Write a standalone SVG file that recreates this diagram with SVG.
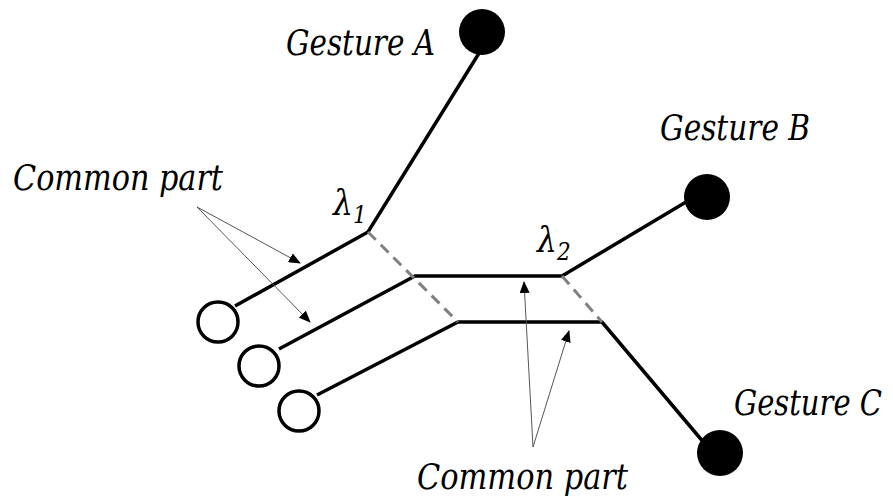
<svg xmlns="http://www.w3.org/2000/svg" width="893" height="498" viewBox="0 0 893 498">
<style>
.path{fill:none;stroke:#000;stroke-width:3.5;stroke-linejoin:miter}
.dash{fill:none;stroke:#808080;stroke-width:3;stroke-dasharray:11,7}
.ptr{fill:none;stroke:#555;stroke-width:1}
.start{fill:#fff;stroke:#000;stroke-width:3.5}
.end{fill:#000}
.lbl{font-family:'DejaVu Serif Condensed','DejaVu Serif',serif;font-stretch:condensed;font-style:italic;font-size:35px;fill:#000}
.sub{font-size:24px}
</style>
<defs>
<marker id="ah" markerWidth="12" markerHeight="10" refX="11" refY="5" orient="auto" markerUnits="userSpaceOnUse">
<path d="M0,0 L12,5 L0,10 Z" fill="#000"/>
</marker>
</defs>
<rect width="893" height="498" fill="#fff"/>
<g id="connectors">
<path class="path" d="M235,306 L368,232 L481,50"/>
<path class="path" d="M279,349 L415,276 L562,276 L686,202"/>
<path class="path" d="M317,395 L458,322 L602,322 L705,444"/>
<path class="dash" d="M368,232 L458,322"/>
<path class="dash" d="M562,276 L602,322"/>
<path class="ptr" d="M197,207 L300,263" marker-end="url(#ah)"/>
<path class="ptr" d="M197,207 L310,322" marker-end="url(#ah)"/>
<path class="ptr" d="M533,447 L524,282" marker-end="url(#ah)"/>
<path class="ptr" d="M533,447 L569,331" marker-end="url(#ah)"/>
</g>
<g id="start1"><circle class="start" cx="218" cy="322" r="20"/></g>
<g id="start2"><circle class="start" cx="259" cy="366" r="20"/></g>
<g id="start3"><circle class="start" cx="299" cy="411" r="20"/></g>
<g id="gestureA"><circle class="end" cx="482" cy="32" r="23"/><text class="lbl" x="286" y="55" textLength="149" lengthAdjust="spacingAndGlyphs">Gesture A</text></g>
<g id="gestureB"><circle class="end" cx="707" cy="197" r="23"/><text class="lbl" x="660" y="140" textLength="150" lengthAdjust="spacingAndGlyphs">Gesture B</text></g>
<g id="gestureC"><circle class="end" cx="720" cy="453" r="23"/><text class="lbl" x="734" y="415" font-size="32" textLength="148" lengthAdjust="spacingAndGlyphs">Gesture C</text></g>
<g id="lambda1"><text class="lbl" x="333" y="215">λ<tspan class="sub" dy="8">1</tspan></text></g>
<g id="lambda2"><text class="lbl" x="537" y="252">λ<tspan class="sub" dy="8">2</tspan></text></g>
<g id="common1"><text class="lbl" x="13" y="190" textLength="210" lengthAdjust="spacingAndGlyphs">Common part</text></g>
<g id="common2"><text class="lbl" x="417" y="489" textLength="211" lengthAdjust="spacingAndGlyphs">Common part</text></g>
</svg>
